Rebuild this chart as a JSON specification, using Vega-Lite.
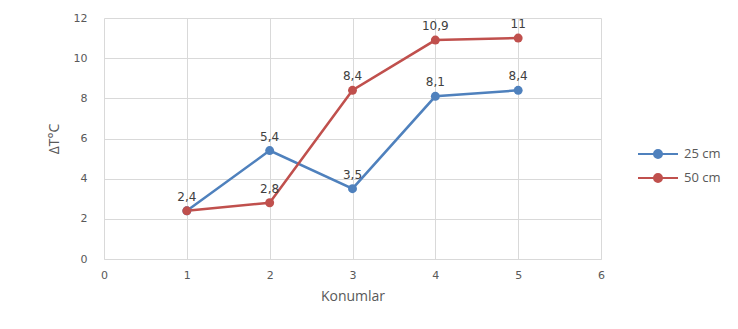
{
  "$schema": "https://vega.github.io/schema/vega-lite/v6.json",
  "width": 497,
  "height": 241,
  "autosize": {"type": "none"},
  "padding": {"left": 104, "top": 18, "right": 137, "bottom": 70},
  "background": "white",
  "data": {
    "values": [
      {"x": 1, "y": 2.4, "s": "25 cm", "lbl": "2,4"},
      {"x": 2, "y": 5.4, "s": "25 cm", "lbl": "5,4"},
      {"x": 3, "y": 3.5, "s": "25 cm", "lbl": "3,5"},
      {"x": 4, "y": 8.1, "s": "25 cm", "lbl": "8,1"},
      {"x": 5, "y": 8.4, "s": "25 cm", "lbl": "8,4"},
      {"x": 1, "y": 2.4, "s": "50 cm", "lbl": "2,4"},
      {"x": 2, "y": 2.8, "s": "50 cm", "lbl": "2,8"},
      {"x": 3, "y": 8.4, "s": "50 cm", "lbl": "8,4"},
      {"x": 4, "y": 10.9, "s": "50 cm", "lbl": "10,9"},
      {"x": 5, "y": 11, "s": "50 cm", "lbl": "11"}
    ]
  },
  "encoding": {
    "x": {"field": "x", "type": "quantitative", "scale": {"domain": [0, 6], "nice": false},
      "axis": {"title": "Konumlar", "values": [0,1,2,3,4,5,6], "labelOverlap": false, "grid": true, "ticks": false,
        "labelPadding": 10, "titlePadding": 9, "domainColor": "#D9D9D9", "gridColor": "#D9D9D9",
        "labelFont": "DejaVu Sans", "labelFontSize": 11, "labelColor": "#595959", "labelFlush": false,
        "titleFont": "Open Sans", "titleFontSize": 14, "titleFontWeight": "normal", "titleColor": "#595959"}},
    "y": {"field": "y", "type": "quantitative", "scale": {"domain": [0, 12], "nice": false},
      "axis": {"title": "ΔT°C", "values": [0,2,4,6,8,10,12], "labelOverlap": false, "grid": true, "ticks": false, "domain": false,
        "labelPadding": 17, "titlePadding": 12, "gridColor": "#D9D9D9", "labelFlush": false,
        "labelFont": "DejaVu Sans", "labelFontSize": 11, "labelColor": "#595959",
        "titleFont": "Open Sans", "titleFontSize": 14, "titleFontWeight": "normal", "titleColor": "#595959"}},
    "color": {"field": "s", "type": "nominal",
      "scale": {"domain": ["25 cm", "50 cm"], "range": ["#4F81BD", "#C0504D"]},
      "legend": {"title": null, "orient": "none", "legendX": 543, "legendY": 125,
        "symbolType": "M-2,0H2M-0.4,0A0.4,0.4 0 1,1 0.4,0A0.4,0.4 0 1,1 -0.4,0Z",
        "symbolSize": 400, "symbolStrokeWidth": 2, "rowPadding": 5,
        "labelFont": "Open Sans", "labelFontSize": 13, "labelColor": "#595959", "labelOffset": 15}}
  },
  "layer": [
    {"mark": {"type": "line", "strokeWidth": 2.5}},
    {"mark": {"type": "point", "filled": true, "size": 80, "opacity": 1}},
    {"transform": [{"filter": "!(datum.s == '50 cm' && datum.x == 1)"}],
      "mark": {"type": "text", "baseline": "bottom", "dy": -7, "font": "DejaVu Sans", "fontSize": 12, "color": "#404040"},
      "encoding": {"text": {"field": "lbl"}, "color": {"value": "#404040"}}}
  ],
  "config": {"view": {"stroke": null}}
}
